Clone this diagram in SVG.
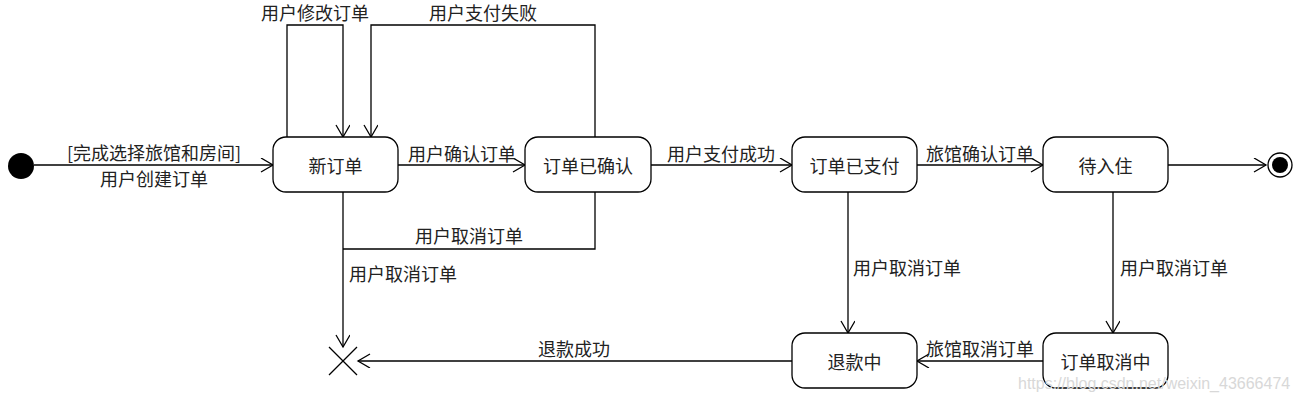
<svg xmlns="http://www.w3.org/2000/svg" width="1300" height="403" viewBox="0 0 1300 403">
<style>
.n rect{fill:#fff;stroke:#000;stroke-width:1.3}
text{font-family:"Noto Sans CJK SC","Liberation Sans",sans-serif;font-size:18px;fill:#222;dominant-baseline:central}
.c{text-anchor:middle}
.e path,.e line{fill:none;stroke:#000;stroke-width:1.3}
.wm{font-family:"Liberation Sans",sans-serif;font-size:16px;fill:#d8d8d8}
</style>
<defs>
<marker id="a" markerUnits="userSpaceOnUse" markerWidth="16" markerHeight="16" refX="13" refY="7" orient="auto">
<path d="M1,0 L13,7 L1,14" fill="none" stroke="#000" stroke-width="1.3"/>
</marker>
</defs>
<rect width="1300" height="403" fill="#fff"/>
<g id="connectors" class="e">
<line x1="34" y1="165" x2="273" y2="165" marker-end="url(#a)"/>
<line x1="398" y1="165" x2="525" y2="165" marker-end="url(#a)"/>
<line x1="651" y1="165" x2="792" y2="165" marker-end="url(#a)"/>
<line x1="917" y1="165" x2="1043" y2="165" marker-end="url(#a)"/>
<line x1="1168" y1="165" x2="1266" y2="165" marker-end="url(#a)"/>
<path d="M287,137 V25 H343 V137" marker-end="url(#a)"/>
<path d="M595,137 V25 H371 V137" marker-end="url(#a)"/>
<path d="M595,192 V249 H343"/>
<line x1="343" y1="192" x2="343" y2="347" marker-end="url(#a)"/>
<line x1="848" y1="192" x2="848" y2="333" marker-end="url(#a)"/>
<line x1="1113" y1="192" x2="1113" y2="333" marker-end="url(#a)"/>
<line x1="1043" y1="361" x2="917" y2="361" marker-end="url(#a)"/>
<line x1="792" y1="361" x2="358" y2="361" marker-end="url(#a)"/>
</g>
<g id="labels">
<text x="315" y="12" class="c">用户修改订单</text>
<text x="483" y="12" class="c">用户支付失败</text>
<text x="154" y="152" class="c">[完成选择旅馆和房间]</text>
<text x="154" y="178" class="c">用户创建订单</text>
<text x="462" y="153" class="c">用户确认订单</text>
<text x="721" y="153" class="c">用户支付成功</text>
<text x="980" y="153" class="c">旅馆确认订单</text>
<text x="469" y="235" class="c">用户取消订单</text>
<text x="349" y="273">用户取消订单</text>
<text x="853" y="267">用户取消订单</text>
<text x="1120" y="267">用户取消订单</text>
<text x="574" y="348" class="c">退款成功</text>
<text x="980" y="348" class="c">旅馆取消订单</text>
</g>
<g id="start"><circle cx="21" cy="166" r="13" fill="#000"/></g>
<g id="end"><circle cx="1280" cy="165" r="12" fill="#fff" stroke="#000" stroke-width="1.3"/><circle cx="1280" cy="165" r="8" fill="#000"/></g>
<g id="terminate" class="e"><line x1="329" y1="347" x2="357" y2="375"/><line x1="357" y1="347" x2="329" y2="375"/></g>
<g id="n1" class="n"><rect x="273" y="137" width="125" height="55" rx="13"/><text x="335.5" y="165" class="c">新订单</text></g>
<g id="n2" class="n"><rect x="525" y="137" width="126" height="55" rx="13"/><text x="588" y="165" class="c">订单已确认</text></g>
<g id="n3" class="n"><rect x="792" y="137" width="125" height="55" rx="13"/><text x="854.5" y="165" class="c">订单已支付</text></g>
<g id="n4" class="n"><rect x="1043" y="137" width="125" height="55" rx="13"/><text x="1105.5" y="165" class="c">待入住</text></g>
<g id="n5" class="n"><rect x="792" y="333" width="125" height="55" rx="13"/><text x="854.5" y="361" class="c">退款中</text></g>
<g id="n6" class="n"><rect x="1043" y="333" width="125" height="55" rx="13"/><text x="1105.5" y="361" class="c">订单取消中</text></g>
<text x="1018" y="383" class="wm">https://blog.csdn.net/weixin_43666474</text>
</svg>
